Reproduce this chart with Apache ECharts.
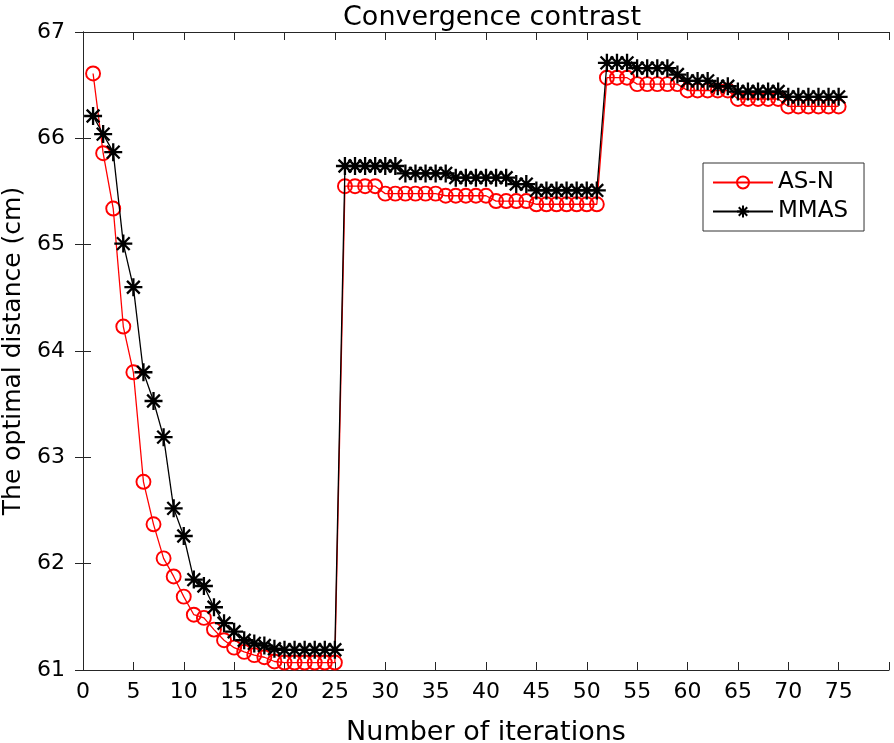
<!DOCTYPE html>
<html>
<head>
<meta charset="utf-8">
<script src="https://cdn.jsdelivr.net/npm/echarts@6/dist/echarts.min.js"></script>
<style>
html,body{margin:0;padding:0;background:#fff;}
#chart{width:894px;height:743px;}
</style>
</head>
<body>
<div id="chart"></div>
<script>
var iterations = [];
for (var i = 1; i <= 75; i++) iterations.push(i);

var asN = [
  66.61, 65.86, 65.34, 64.23, 63.80, 62.77, 62.37, 62.05, 61.88, 61.69,
  61.52, 61.49, 61.38, 61.28, 61.21, 61.17, 61.14, 61.12, 61.08, 61.07,
  61.07, 61.07, 61.07, 61.07, 61.07, 65.55, 65.55, 65.55, 65.55, 65.48,
  65.48, 65.48, 65.48, 65.48, 65.48, 65.46, 65.46, 65.46, 65.46, 65.46,
  65.41, 65.41, 65.41, 65.41, 65.38, 65.38, 65.38, 65.38, 65.38, 65.38,
  65.38, 66.57, 66.57, 66.57, 66.51, 66.51, 66.51, 66.51, 66.51, 66.45,
  66.45, 66.45, 66.45, 66.45, 66.37, 66.37, 66.37, 66.37, 66.37, 66.30,
  66.30, 66.30, 66.30, 66.30, 66.30
];

var mmas = [
  66.21, 66.04, 65.87, 65.01, 64.60, 63.80, 63.53, 63.19, 62.52, 62.26,
  61.85, 61.79, 61.59, 61.44, 61.36, 61.28, 61.25, 61.23, 61.20, 61.19,
  61.19, 61.19, 61.19, 61.19, 61.19, 65.74, 65.74, 65.74, 65.74, 65.74,
  65.74, 65.67, 65.67, 65.67, 65.67, 65.67, 65.63, 65.63, 65.63, 65.63,
  65.63, 65.63, 65.57, 65.57, 65.51, 65.51, 65.51, 65.51, 65.51, 65.51,
  65.51, 66.71, 66.71, 66.71, 66.66, 66.66, 66.66, 66.66, 66.60, 66.54,
  66.54, 66.54, 66.49, 66.49, 66.44, 66.44, 66.44, 66.44, 66.44, 66.39,
  66.39, 66.39, 66.39, 66.39, 66.39
];

var xTicks = [0, 5, 10, 15, 20, 25, 30, 35, 40, 45, 50, 55, 60, 65, 70, 75];
var yTicks = [61, 62, 63, 64, 65, 66, 67];

function pairs(xs, ys) { return xs.map(function (x, i) { return [x, ys[i]]; }); }

var FONT = 'DejaVu Sans';
var AX = '#262626';
var starPath = 'path://M0,-10L0,10M-10,0L10,0M-7.07,-7.07L7.07,7.07M-7.07,7.07L7.07,-7.07';

var chart = echarts.init(document.getElementById('chart'), null, {renderer: 'canvas'});
var option = {
  animation: false,
  backgroundColor: '#fff',
  title: {
    text: 'Convergence contrast',
    left: 487,
    textAlign: 'center',
    top: -1,
    textStyle: {fontFamily: FONT, fontSize: 27, fontWeight: 'normal', color: '#000'}
  },
  grid: {left: 83, right: 5, top: 32, bottom: 73, containLabel: false, outerBoundsMode: 'none'},
  legend: {
    left: 703,
    top: 163,
    orient: 'vertical',
    itemWidth: 60,
    itemHeight: 15,
    itemGap: 6,
    padding: [8, 16, 8, 9],
    borderColor: '#333',
    borderWidth: 1,
    backgroundColor: '#fff',
    textStyle: {fontFamily: FONT, fontSize: 23, color: '#000'},
    data: ['AS-N', 'MMAS']
  },
  xAxis: [{
    type: 'value', min: 0, max: 80, interval: 5, position: 'bottom',
    name: 'Number of iterations', nameLocation: 'middle', nameGap: 49,
    nameTextStyle: {fontFamily: FONT, fontSize: 27, color: '#000'},
    axisLine: {show: true, lineStyle: {color: AX, width: 1}},
    axisTick: {show: true, inside: true, length: 8, lineStyle: {color: AX}},
    axisLabel: {fontFamily: FONT, fontSize: 22, color: '#000', margin: 11,
      formatter: function (v) { return xTicks.indexOf(v) >= 0 ? String(v) : ''; }},
    splitLine: {show: false}
  }, {
    type: 'value', min: 0, max: 80, interval: 5, position: 'top',
    axisLine: {show: true, lineStyle: {color: AX, width: 1}},
    axisTick: {show: true, inside: true, length: 8, lineStyle: {color: AX}},
    axisLabel: {show: false}, splitLine: {show: false}
  }],
  yAxis: [{
    type: 'value', min: 61, max: 67, interval: 1, position: 'left',
    name: 'The optimal distance (cm)', nameLocation: 'middle', nameGap: 52,
    nameTextStyle: {fontFamily: FONT, fontSize: 25, color: '#000'},
    axisLine: {show: true, lineStyle: {color: AX, width: 1}},
    axisTick: {show: true, inside: true, length: 8, lineStyle: {color: AX}},
    axisLabel: {fontFamily: FONT, fontSize: 22, color: '#000', margin: 18,
      formatter: function (v) { return yTicks.indexOf(v) >= 0 ? String(v) : ''; }},
    splitLine: {show: false}
  }, {
    type: 'value', min: 61, max: 67, interval: 1, position: 'right',
    axisLine: {show: true, lineStyle: {color: AX, width: 1}},
    axisTick: {show: true, inside: true, length: 8, lineStyle: {color: AX}},
    axisLabel: {show: false}, splitLine: {show: false}
  }],
  series: [{
    name: 'AS-N', type: 'line', xAxisIndex: 0, yAxisIndex: 0,
    data: pairs(iterations, asN),
    symbol: 'circle', symbolSize: 14, showAllSymbol: true,
    lineStyle: {color: '#ff0000', width: 1.3},
    itemStyle: {color: 'rgba(255,255,255,0)', borderColor: '#ff0000', borderWidth: 1.9},
    z: 2
  }, {
    name: 'MMAS', type: 'line', xAxisIndex: 0, yAxisIndex: 0,
    data: pairs(iterations, mmas),
    symbol: starPath, symbolSize: 18, showAllSymbol: true,
    lineStyle: {color: '#000', width: 1.3},
    itemStyle: {color: '#000', borderColor: '#000', borderWidth: 2.3},
    z: 3
  }]
};
chart.setOption(option);
</script>
</body>
</html>
